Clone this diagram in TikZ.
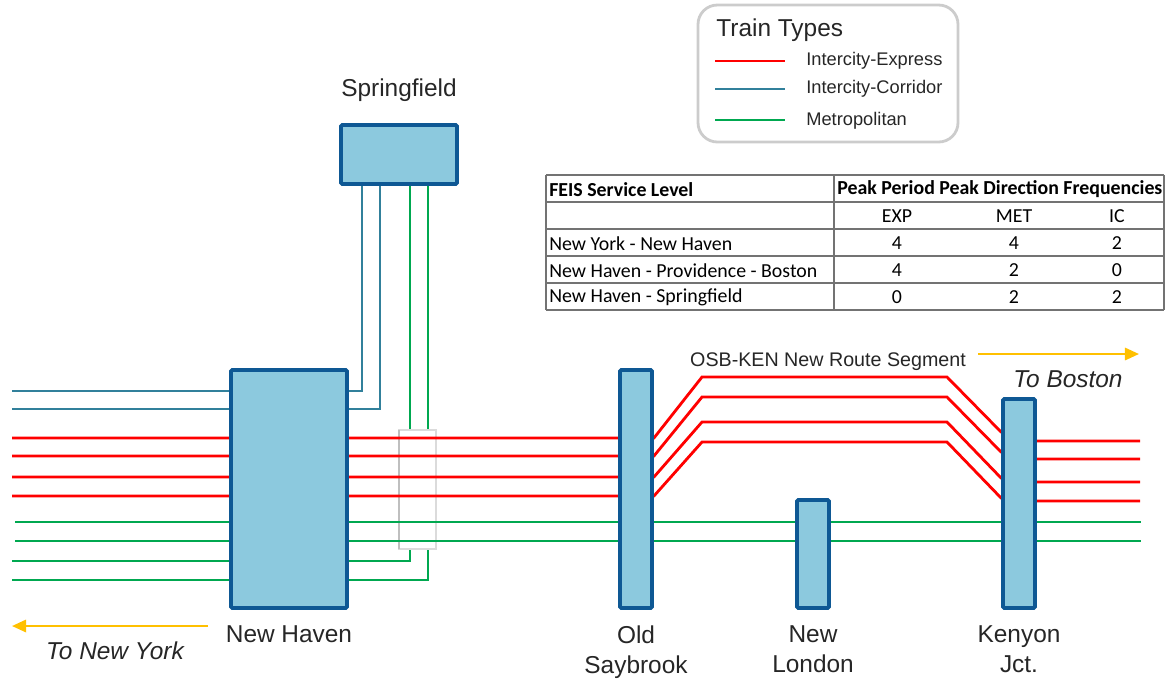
\documentclass[tikz,border=0pt]{standalone}
\usepackage{fontspec}
\setmainfont{Liberation Sans}
\newfontfamily\tabfont{Carlito}
\usetikzlibrary{arrows.meta, positioning, backgrounds}

\definecolor{exred}{HTML}{FF0000}
\definecolor{icblue}{HTML}{31809B}
\definecolor{metgreen}{HTML}{00A850}
\definecolor{stnfill}{HTML}{8CC9DE}
\definecolor{stnedge}{HTML}{0E5894}
\definecolor{dirgold}{HTML}{FFC000}
\definecolor{inkgray}{HTML}{262626}

\tikzset{
  express/.style={draw=exred, line width=1.6pt},
  corridor/.style={draw=icblue, line width=1.6pt},
  metro/.style={draw=metgreen, line width=1.6pt},
  station/.style={draw=stnedge, fill=stnfill, line width=2.2pt, rounded corners=0.8pt, inner sep=0pt},
  stnlabel/.style={font=\fontsize{13.9}{17}\selectfont, text=inkgray, align=center, inner sep=0pt},
  keylabel/.style={font=\fontsize{10.4}{12}\selectfont, text=inkgray, anchor=west, inner sep=0pt},
  heading/.style={draw=dirgold, line width=1.3pt, -{Triangle[length=8pt, width=7pt]}},
  cell/.style={font=\tabfont\fontsize{11.3}{13}\selectfont, inner sep=0pt},
  headcell/.style={font=\tabfont\bfseries\fontsize{11.3}{13}\selectfont, inner sep=0pt, anchor=west},
  tabline/.style={draw=black!55, line width=0.6pt},
}

\begin{document}
\begin{tikzpicture}[x=0.02cm, y=-0.02cm]
\useasboundingbox (0,0) rectangle (1168,681);

% Stations
\node[station, minimum width=2.32cm, minimum height=4.76cm] (nh) at (289,489) {};
\node[station, minimum width=2.32cm, minimum height=1.18cm] (spr) at (399,154.5) {};
\node[station, minimum width=0.64cm, minimum height=4.76cm] (osb) at (636,489) {};
\node[station, minimum width=0.64cm, minimum height=2.16cm] (nl) at (813,554) {};
\node[station, minimum width=0.64cm, minimum height=4.18cm] (ken) at (1019,503.5) {};

% Station names
\node[stnlabel, above=0.42cm of spr] (sprname) {Springfield};
\node[stnlabel, below=0.31cm of nh] (nhname) {New Haven};
\node[stnlabel, below=0.31cm of osb] (osbname) {Old\\Saybrook};
\node[stnlabel, below=0.31cm of nl] (nlname) {New\\London};
\node[stnlabel, below=0.31cm of ken] (kenname) {Kenyon\\Jct.};

% Tracks, behind the stations
\begin{scope}[on background layer]
  % corridor tracks up to Springfield
  \draw[corridor] (12,391) -- (362,391) -- (362,0 |- spr.south);
  \draw[corridor] (12,409) -- (380,409) -- (380,0 |- spr.south);
  % metropolitan tracks up to Springfield
  \draw[metro] (12,561) -- (410,561) -- (410,0 |- spr.south);
  \draw[metro] (12,580) -- (428,580) -- (428,0 |- spr.south);
  % overpass
  \draw[draw=gray!28, fill=white, line width=0.6pt] (399,430) rectangle (436,549);
  \draw[draw=gray!50, line width=0.6pt] (399,430) -- (399,549);
  % through metropolitan tracks
  \draw[metro] (15,522) -- (1141,522);
  \draw[metro] (15,541) -- (1141,541);
  % express tracks over the new segment
  \foreach \a/\b/\c/\d in {438/377/432/441, 456/397/452/459, 477/422/478/482, 496/442/498/501}
    \draw[express] (12,\a) -- (osb.east |- 0,\a) -- (702,\b) -- (947,\b)
      -- (ken.west |- 0,\c) -- (ken.east |- 0,\d) -- (1140,\d);
\end{scope}

\node[font=\fontsize{11.2}{13}\selectfont, text=inkgray, inner sep=0pt] (segname) at (828,362) {OSB-KEN New Route Segment};

% Directions
\coordinate (bosA) at (978,354);
\coordinate (bosB) at (1139,354);
\coordinate (nyA) at (208,626);
\coordinate (nyB) at (12,626);
\draw[heading] (bosA) -- (bosB);
\draw[heading] (nyA) -- (nyB);
\node[stnlabel, font=\fontsize{13.9}{17}\selectfont\itshape] (bosname) at (1068,379) {To Boston};
\node[stnlabel, font=\fontsize{13.9}{17}\selectfont\itshape] (nyname) at (115,651) {To New York};

% Legend
\draw[gray!40, line width=1.6pt, rounded corners=11pt] (698,5) rectangle (958,142);
\node[stnlabel, anchor=west] (keytitle) at (716,30) {Train Types};
\draw[express] (715,61) -- (785,61);
\draw[corridor] (715,89) -- (785,89);
\draw[metro] (715,120) -- (785,120);
\node[keylabel] (keyexp) at (806,61) {Intercity-Express};
\node[keylabel] (keyic) at (806,89) {Intercity-Corridor};
\node[keylabel] (keymet) at (806,121) {Metropolitan};

% Frequency table
\foreach \y in {175,202,229,256,283,310}
  \draw[tabline] (546,\y) -- (1164,\y);
\foreach \x in {546,834,1164}
  \draw[tabline] (\x,175) -- (\x,310);
\node[headcell] (thA) at (549,189.5) {FEIS Service Level};
\node[headcell] (thB) at (837,189.5) {Peak Period Peak Direction Frequencies};
\node[cell] (thexp) at (897,216.5) {EXP};
\node[cell] (thmet) at (1014,216.5) {MET};
\node[cell] (thic) at (1117,216.5) {IC};
\foreach \r/\y/\e/\m/\i in {New York - New Haven/243.5/4/4/2,
    New Haven - Providence - Boston/270.5/4/2/0,
    New Haven - Springfield/297.5/0/2/2} {
  \node[cell, anchor=west] at (549,\y) {\r};
  \node[cell] at (897,\y) {\e};
  \node[cell] at (1014,\y) {\m};
  \node[cell] at (1117,\y) {\i};
}

\end{tikzpicture}
\end{document}
